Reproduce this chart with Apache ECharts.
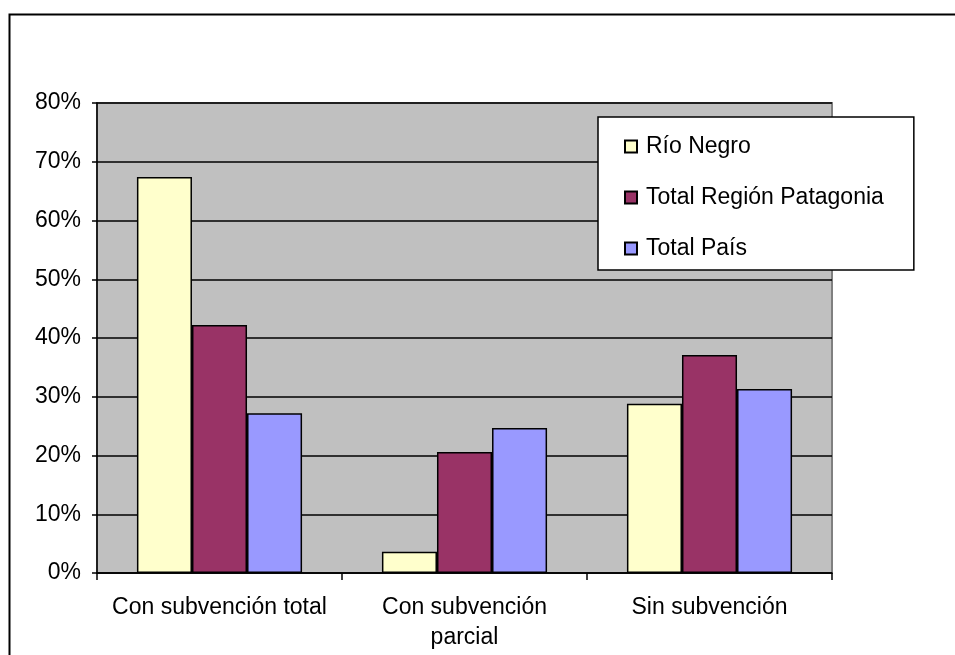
<!DOCTYPE html>
<html>
<head>
<meta charset="utf-8">
<script src="https://cdn.jsdelivr.net/npm/echarts@6/dist/echarts.min.js"></script>
<style>
  html, body { margin: 0; padding: 0; background: #ffffff; }
  #chart { width: 955px; height: 655px; }
</style>
</head>
<body>
<div id="chart"></div>
<script>
// Tipo de subvención: porcentajes por jurisdicción
const categories = ['Con subvención total', 'Con subvención parcial', 'Sin subvención'];
const seriesNames = ['Río Negro', 'Total Región Patagonia', 'Total País'];
const rioNegro = [67.4, 3.6, 28.8];
const regionPatagonia = [42.2, 20.6, 37.1];
const totalPais = [27.2, 24.7, 31.3];
const yTicks = { min: 0, max: 80, step: 10 };

const FONT = "'Liberation Sans', Arial, sans-serif";
const colors = ['#FFFFCC', '#993366', '#9999FF'];
const values = [rioNegro, regionPatagonia, totalPais];

// Long category names move their last word onto a second line
function wrapLabel(text) {
  if (text.length <= 21) return text;
  const cut = text.lastIndexOf(' ');
  return text.slice(0, cut) + '\n' + text.slice(cut + 1);
}

const chart = echarts.init(document.getElementById('chart'), null, { renderer: 'canvas' });

chart.setOption({
  backgroundColor: '#ffffff',
  animation: false,
  textStyle: { fontFamily: FONT, color: '#000' },
  graphic: [{
    type: 'rect',
    shape: { x: 9.5, y: 14.5, width: 980, height: 700 },
    style: { fill: 'none', stroke: '#000', lineWidth: 2 },
    z: -1
  }],
  grid: {
    left: 97, top: 103, right: 123, bottom: 82,
    show: true,
    backgroundColor: '#C0C0C0',
    borderColor: '#808080',
    borderWidth: 2
  },
  legend: {
    orient: 'vertical',
    left: 598, top: 117,
    padding: [18, 30, 10, 26],
    itemGap: 28,
    itemWidth: 12, itemHeight: 12,
    icon: 'rect',
    backgroundColor: '#ffffff',
    borderColor: '#000',
    borderWidth: 1.5,
    textStyle: { fontFamily: FONT, fontSize: 23, color: '#000', padding: [0, 0, 0, 4] },
    data: seriesNames
  },
  xAxis: {
    type: 'category',
    data: categories,
    axisLine: { show: true, lineStyle: { color: '#000', width: 1.5 } },
    axisTick: { show: true, length: 7, lineStyle: { color: '#000', width: 1.5 } },
    axisLabel: {
      fontFamily: FONT, fontSize: 23, color: '#000',
      margin: 20, lineHeight: 30,
      interval: 0,
      formatter: wrapLabel
    },
    splitLine: { show: false }
  },
  yAxis: {
    type: 'value',
    min: yTicks.min, max: yTicks.max, interval: yTicks.step,
    axisLine: { show: true, lineStyle: { color: '#000', width: 1.5 } },
    axisTick: { show: true, length: 5, lineStyle: { color: '#000', width: 1.5 } },
    axisLabel: { fontFamily: FONT, fontSize: 23, color: '#000', margin: 16, formatter: '{value}%' },
    splitLine: { show: true, lineStyle: { color: '#000', width: 1.5 } }
  },
  series: seriesNames.map((name, i) => ({
    name: name,
    type: 'bar',
    data: values[i],
    barGap: '0%',
    barCategoryGap: '32.6%',
    itemStyle: { color: colors[i], borderColor: '#000', borderWidth: 1.5 }
  }))
});
</script>
</body>
</html>
